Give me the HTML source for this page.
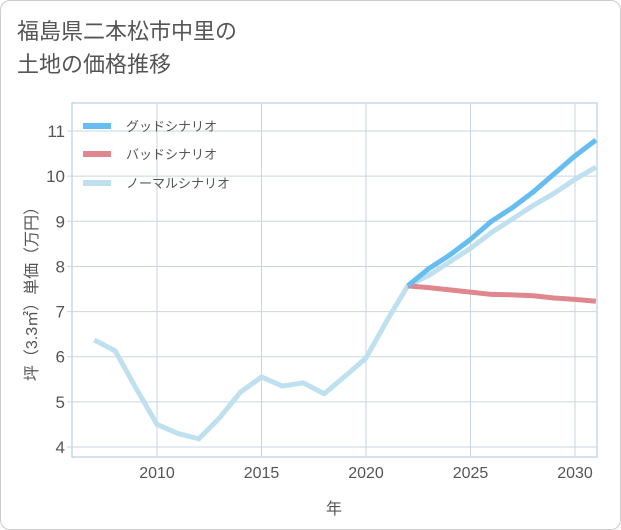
<!DOCTYPE html>
<html><head><meta charset="utf-8"><style>
body{margin:0;background:#fff;}
.wrap{position:relative;width:619px;height:528px;border:1px solid #ccc;border-radius:10px;overflow:hidden;background:#fff;}
.title{position:absolute;left:16px;top:14px;font:22px/33px "Liberation Sans","Noto Sans CJK JP",sans-serif;color:#555;}
svg text{font-family:"Liberation Sans","Noto Sans CJK JP",sans-serif;}
</style></head><body>
<div class="wrap">
<div class="title">福島県二本松市中里の<br>土地の価格推移</div>
<svg id="chart" width="621" height="530" style="position:absolute;left:-1px;top:-1px"></svg>
</div>
<script>
const years=[2007,2008,2009,2010,2011,2012,2013,2014,2015,2016,2017,2018,2019,2020,2021,2022,2023,2024,2025,2026,2027,2028,2029,2030,2031];
const normal=[6.37,6.13,5.3,4.5,4.3,4.18,4.65,5.22,5.55,5.35,5.42,5.18,5.57,5.97,6.8,7.57,7.8,8.1,8.4,8.75,9.05,9.35,9.62,9.93,10.2];
const goodYears=[2022,2023,2024,2025,2026,2027,2028,2029,2030,2031];
const good=[7.57,7.95,8.25,8.6,9.0,9.3,9.65,10.05,10.45,10.8];
const bad=[7.57,7.53,7.48,7.43,7.38,7.37,7.35,7.3,7.27,7.23];
const xTicks=[2010,2015,2020,2025,2030];
const yTicks=[4,5,6,7,8,9,10,11];
const NS='http://www.w3.org/2000/svg';
const svg=document.getElementById('chart');
const L=72,R=597,T=103,B=457;
const x=v=>157+(v-2010)*20.9;
const y=v=>447-(v-4)*45.14;
function el(t,a,p){const e=document.createElementNS(NS,t);for(const k in a)e.setAttribute(k,a[k]);(p||svg).appendChild(e);return e;}
const bg=el('rect',{x:L,y:T,width:R-L,height:B-T,fill:'#fff',stroke:'#b0c4d4'});


xTicks.forEach(t=>{
 const g=el('line',{x1:x(t),x2:x(t),y1:T,y2:B,stroke:'#c8d6e2'});
 
 
 const tx=el('text',{x:x(t),y:478,'text-anchor':'middle','font-size':16,fill:'#555'});tx.textContent=t;
 
 
});
yTicks.forEach(t=>{
 const g=el('line',{x1:L-5,x2:R,y1:y(t),y2:y(t),stroke:'#c8d6e2'});
 
 
 const tx=el('text',{x:L-7,y:y(t)+6,'text-anchor':'end','font-size':17,fill:'#555'});tx.textContent=t;
 
 
});
const xt=el('text',{x:334,y:514,'text-anchor':'middle','font-size':16,fill:'#555'});xt.textContent='年';


const yt=el('text',{x:0,y:0,'text-anchor':'middle','font-size':16,fill:'#555',transform:'translate(37,290) rotate(-90)'});yt.textContent='坪（3.3㎡）単価（万円）';


const clip=el('clipPath',{id:'c'});el('rect',{x:L,y:T,width:R-L,height:B-T},clip);
function line(xs,vs,c,name){const p=el('polyline',{points:xs.map((v,i)=>x(v)+','+y(vs[i])).join(' '),fill:'none',stroke:c,'stroke-width':5,'stroke-linejoin':'round','clip-path':'url(#c)'});
 
 }
line(years,normal,'#bfe0ee','normal-scenario-line');
line(goodYears,bad,'#e0868f','bad-scenario-line');
line(goodYears,good,'#66bdf0','good-scenario-line');
[['グッドシナリオ','#66bdf0',126],['バッドシナリオ','#e0868f',154],['ノーマルシナリオ','#bfe0ee',183]].forEach(([n,c,yy])=>{
 const g=el('g',{});
 
 
 el('line',{x1:83,x2:111,y1:yy,y2:yy,stroke:c,'stroke-width':6},g);
 const t=el('text',{x:126,y:yy+5,'font-size':13,fill:'#555'},g);t.textContent=n;
});
</script>
</body></html>
